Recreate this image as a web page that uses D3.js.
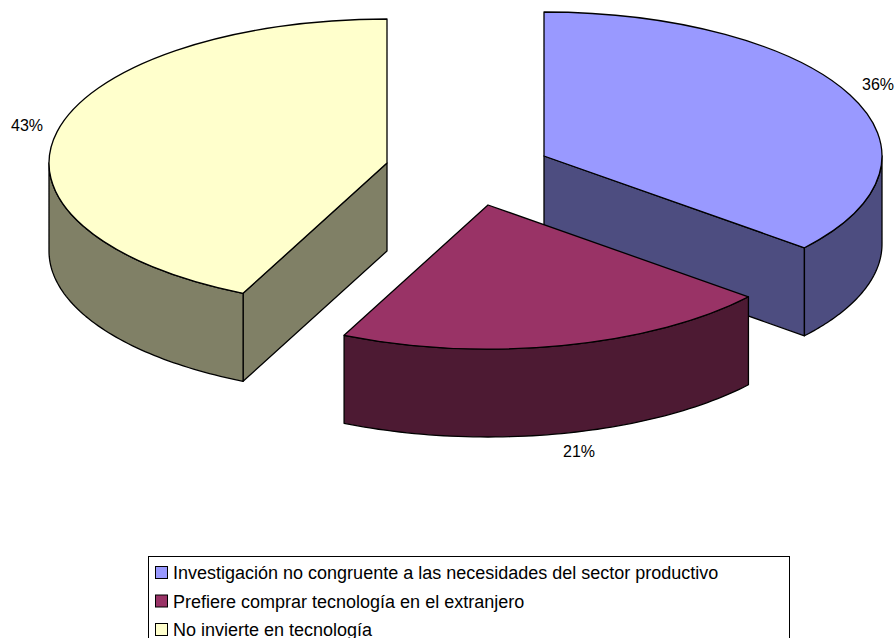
<!DOCTYPE html>
<html><head><meta charset="utf-8">
<script src="https://cdnjs.cloudflare.com/ajax/libs/d3/7.8.5/d3.min.js"></script>
<style>html,body{margin:0;padding:0;background:#fff}svg{display:block}text{font-family:"Liberation Sans",Arial,sans-serif;fill:#000}</style>
</head><body><svg id="c" width="896" height="638"></svg>
<script>
const categories=["Investigación no congruente a las necesidades del sector productivo","Prefiere comprar tecnología en el extranjero","No invierte en tecnología"];
const values=[36,21,43];
const labels=["36%","21%","43%"];
const topColors=["#9999FF","#993366","#FFFFCC"];
const sideColors=["#4D4D80","#4D1A33","#808066"];
const centers=[[544,156],[488,205],[387,163]];
const labelPos=[[878,90],[579,457],[27,131]];
const rx=338, ry=144, depth=88;

const svg=d3.select("#c");
const arcs=d3.pie().sort(null).startAngle(0).endAngle(2*Math.PI)(values);
const X=(c,a)=>c[0]+rx*Math.sin(a), Y=(c,a)=>c[1]-ry*Math.cos(a);
const wall=(c,a0,a1)=>{
  const n=60, as=d3.range(n+1).map(i=>a0+(a1-a0)*i/n);
  return d3.area().x(a=>X(c,a)).y0(a=>Y(c,a)).y1(a=>Y(c,a)+depth)(as);
};
const unitArc=d3.arc().innerRadius(0).outerRadius(rx);
const style=(s,f)=>s.attr("fill",f).attr("stroke","#000").attr("stroke-width",1.3).attr("stroke-linejoin","round");
const face=(c,a)=>d3.line()([[c[0],c[1]],[X(c,a),Y(c,a)],[X(c,a),Y(c,a)+depth],[c[0],c[1]+depth]])+"Z";

[0,2,1].forEach(i=>{
  const d=arcs[i], c=centers[i], g=svg.append("g");
  const lo=Math.max(d.startAngle,Math.PI/2), hi=Math.min(d.endAngle,3*Math.PI/2);
  if(i===0) style(g.append("path").attr("d",face(c,d.endAngle)),sideColors[i]);
  if(i===2) style(g.append("path").attr("d",face(c,d.startAngle)),sideColors[i]);
  if(hi>lo) style(g.append("path").attr("d",wall(c,lo,hi)),sideColors[i]);
  style(g.append("path").attr("d",unitArc(d))
    .attr("transform",`translate(${c[0]},${c[1]}) scale(1,${ry/rx})`)
    .attr("vector-effect","non-scaling-stroke"),topColors[i]);
});

svg.selectAll("text.lab").data(labels).join("text").attr("class","lab")
  .attr("x",(d,i)=>labelPos[i][0]).attr("y",(d,i)=>labelPos[i][1])
  .attr("text-anchor","middle").attr("font-size",16).text(d=>d);

svg.append("rect").attr("x",148.5).attr("y",556.5).attr("width",641).attr("height",90)
  .attr("fill","#fff").attr("stroke","#000").attr("stroke-width",1);
const rowY=d3.scalePoint().domain(d3.range(categories.length)).range([573,630]);
const leg=svg.selectAll("g.leg").data(categories).join("g").attr("class","leg")
  .attr("transform",(d,i)=>`translate(0,${rowY(i)})`);
leg.append("rect").attr("x",155.5).attr("y",-6.5).attr("width",12).attr("height",12)
  .attr("fill",(d,i)=>topColors[i]).attr("stroke","#000").attr("stroke-width",1);
leg.append("text").attr("x",173).attr("y",6).attr("font-size",18).text(d=>d);
</script></body></html>
